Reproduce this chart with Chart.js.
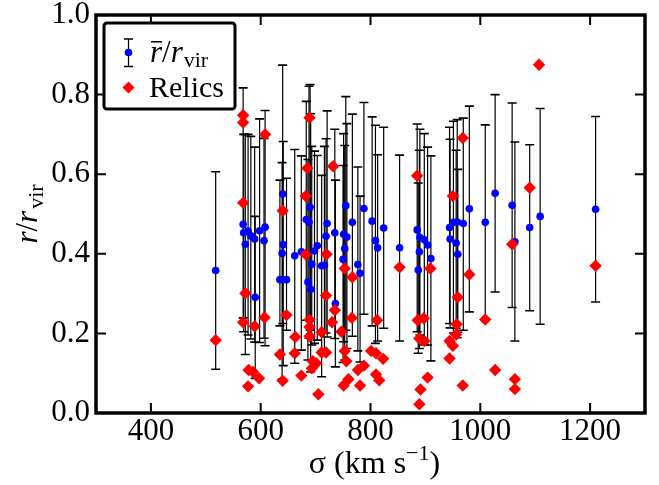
<!DOCTYPE html>
<html>
<head>
<meta charset="utf-8">
<script src="https://cdn.jsdelivr.net/npm/chart.js@4.4.1/dist/chart.umd.min.js"></script>
<style>
  html, body { margin: 0; padding: 0; background: #fff; }
</style>
</head>
<body>
<canvas id="chart" width="659" height="485"></canvas>
<script>
// clusters: velocity dispersion, mean r/rvir and the error bar ends
const clusterSigma = [518, 568, 569, 577, 572, 582, 589, 598, 608, 606,
  590, 640, 641, 639, 635, 647, 662, 674, 683, 690,
  688, 693, 686, 691, 698, 703, 711, 721, 719, 735,
  736, 716, 755, 767, 751, 757, 753, 750, 777, 781,
  788, 803, 809, 813, 824, 853, 885, 890, 898, 889,
  887, 904, 910, 944, 945, 951, 958, 969, 956, 959,
  980, 1009, 1027, 1058, 1063, 1090, 1109, 1210];
const clusterMean = [0.358, 0.474, 0.453, 0.457, 0.424, 0.445, 0.437, 0.458, 0.467, 0.433,
  0.291, 0.550, 0.423, 0.401, 0.335, 0.335, 0.395, 0.405, 0.486, 0.517,
  0.479, 0.374, 0.329, 0.311, 0.407, 0.420, 0.370, 0.476, 0.444, 0.453,
  0.275, 0.371, 0.521, 0.479, 0.449, 0.442, 0.413, 0.386, 0.373, 0.351,
  0.514, 0.482, 0.433, 0.415, 0.465, 0.415, 0.460, 0.441, 0.435, 0.405,
  0.359, 0.422, 0.388, 0.466, 0.437, 0.479, 0.480, 0.476, 0.427, 0.399,
  0.513, 0.479, 0.552, 0.522, 0.430, 0.466, 0.494, 0.512];
const clusterHi = [0.606, 0.817, 0.700, 0.700, 0.700, 0.695, 0.668, 0.739, 0.760, 0.690,
  0.494, 0.874, 0.682, 0.629, 0.585, 0.590, 0.662, 0.646, 0.783, 0.825,
  0.821, 0.670, 0.637, 0.752, 0.658, 0.647, 0.597, 0.759, 0.689, 0.713,
  0.585, 0.670, 0.795, 0.751, 0.702, 0.727, 0.672, 0.622, 0.618, 0.545,
  0.780, 0.744, 0.723, 0.649, 0.718, 0.648, 0.726, 0.713, 0.702, 0.660,
  0.578, 0.668, 0.646, 0.718, 0.688, 0.733, 0.737, 0.741, 0.660, 0.612,
  0.771, 0.724, 0.800, 0.779, 0.681, 0.674, 0.765, 0.745];
const clusterLo = [0.110, 0.239, 0.204, 0.196, 0.147, 0.186, 0.178, 0.177, 0.169, 0.188,
  0.087, 0.225, 0.119, 0.085, 0.219, 0.208, 0.125, 0.158, 0.233, 0.208,
  0.188, 0.171, 0.133, 0.103, 0.175, 0.183, 0.091, 0.191, 0.201, 0.187,
  0.116, 0.153, 0.208, 0.193, 0.179, 0.162, 0.133, 0.127, 0.156, 0.128,
  0.248, 0.219, 0.175, 0.181, 0.213, 0.181, 0.204, 0.196, 0.171, 0.162,
  0.150, 0.171, 0.131, 0.225, 0.214, 0.201, 0.189, 0.208, 0.213, 0.203,
  0.254, 0.233, 0.304, 0.265, 0.181, 0.257, 0.223, 0.279];

// relics: sigma of the host cluster and the relic's r/rvir
const relicSigma = [518, 568, 568, 608, 568, 572, 568, 589, 607, 578,
  586, 597, 577, 689, 685, 682, 640, 732, 647, 682,
  720, 719, 663, 689, 689, 689, 711, 635, 662, 711,
  695, 701, 693, 640, 674, 705, 730, 735, 753, 767,
  747, 766, 853, 812, 886, 897, 889, 898, 909, 753,
  756, 801, 810, 823, 788, 777, 760, 751, 781, 810,
  816, 904, 891, 889, 719, 885, 1107, 968, 950, 1090,
  980, 959, 1009, 1058, 957, 956, 944, 950, 944, 968,
  1027, 1063, 1063, 1210];
const relicR = [0.183, 0.748, 0.730, 0.700, 0.528, 0.301, 0.228, 0.218, 0.240, 0.108,
  0.103, 0.087, 0.067, 0.742, 0.615, 0.545, 0.508, 0.620, 0.246, 0.398,
  0.399, 0.295, 0.191, 0.234, 0.216, 0.193, 0.203, 0.147, 0.150, 0.152,
  0.130, 0.125, 0.112, 0.081, 0.094, 0.047, 0.228, 0.258, 0.363, 0.341,
  0.204, 0.239, 0.366, 0.233, 0.233, 0.238, 0.187, 0.181, 0.363, 0.156,
  0.130, 0.156, 0.150, 0.136, 0.119, 0.108, 0.085, 0.069, 0.069, 0.097,
  0.082, 0.089, 0.059, 0.022, 0.152, 0.596, 0.875, 0.691, 0.545, 0.566,
  0.348, 0.291, 0.235, 0.424, 0.223, 0.197, 0.181, 0.169, 0.137, 0.069,
  0.108, 0.085, 0.060, 0.370];

const xTickValues = [400, 600, 800, 1000, 1200];
const yTickValues = [0, 0.2, 0.4, 0.6, 0.8, 1.0];

const SERIF = 'Liberation Serif, Times New Roman, Times, DejaVu Serif, serif';
Chart.defaults.font.family = SERIF;

function errorBar(ctx, px, top, bot, cap) {
  ctx.lineWidth = 1.2;
  ctx.beginPath();
  ctx.moveTo(px, top); ctx.lineTo(px, bot);
  ctx.stroke();
  ctx.lineWidth = 1.6;
  ctx.beginPath();
  ctx.moveTo(px - cap, top); ctx.lineTo(px + cap, top);
  ctx.moveTo(px - cap, bot); ctx.lineTo(px + cap, bot);
  ctx.stroke();
}

const decorPlugin = {
  id: 'decor',
  beforeDatasetsDraw(chart) {
    const { ctx, scales: { x, y } } = chart;
    ctx.save();
    ctx.strokeStyle = '#000';
    clusterSigma.forEach((s, i) => {
      errorBar(ctx, x.getPixelForValue(s), y.getPixelForValue(clusterHi[i]),
        y.getPixelForValue(clusterLo[i]), 4.5);
    });
    ctx.restore();
  },
  afterDatasetsDraw(chart) {
    const { ctx, chartArea: a, scales: { x, y } } = chart;
    ctx.save();
    ctx.strokeStyle = '#000';
    // inward ticks on all four sides
    ctx.lineWidth = 2;
    ctx.beginPath();
    xTickValues.forEach(v => {
      const px = x.getPixelForValue(v);
      ctx.moveTo(px, a.bottom); ctx.lineTo(px, a.bottom - 10);
      ctx.moveTo(px, a.top); ctx.lineTo(px, a.top + 10);
    });
    yTickValues.forEach(v => {
      const py = y.getPixelForValue(v);
      ctx.moveTo(a.left, py); ctx.lineTo(a.left + 10, py);
      ctx.moveTo(a.right, py); ctx.lineTo(a.right - 10, py);
    });
    ctx.stroke();
    ctx.lineWidth = 3.5;
    ctx.strokeRect(a.left, a.top, a.right - a.left, a.bottom - a.top);
    ctx.restore();
  },
  afterDraw(chart) {
    const { ctx, chartArea: a } = chart;
    ctx.save();
    ctx.fillStyle = '#000';
    ctx.textBaseline = 'alphabetic';

    // x title: sigma (km s^-1)
    const main = '32px ' + SERIF, sup = '22px ' + SERIF;
    const p1 = 'σ (km s', p2 = '−1', p3 = ')';
    ctx.font = main; const w1 = ctx.measureText(p1).width, w3 = ctx.measureText(p3).width;
    ctx.font = sup; const w2 = ctx.measureText(p2).width;
    let tx = (a.left + a.right) / 2 + 4 - (w1 + w2 + w3) / 2;
    const ty = 473;
    ctx.font = main; ctx.fillText(p1, tx, ty); tx += w1;
    ctx.font = sup; ctx.fillText(p2, tx, ty - 13); tx += w2;
    ctx.font = main; ctx.fillText(p3, tx, ty);

    // y title: r / r_vir, rotated
    const it = 'italic 31px ' + SERIF, rm = '31px ' + SERIF, sub = '22px ' + SERIF;
    ctx.font = it; const wr = ctx.measureText('r').width;
    ctx.font = rm; const ws = ctx.measureText('/').width;
    ctx.font = sub; const wv = ctx.measureText('vir').width;
    const total = wr * 2 + ws + wv + 2;
    ctx.save();
    ctx.translate(37, (a.top + a.bottom) / 2);
    ctx.rotate(-Math.PI / 2);
    let yx = -total / 2;
    ctx.font = it; ctx.fillText('r', yx, 0); yx += wr;
    ctx.font = rm; ctx.fillText('/', yx, 0); yx += ws;
    ctx.font = it; ctx.fillText('r', yx, 0); yx += wr + 2;
    ctx.font = sub; ctx.fillText('vir', yx, 6);
    ctx.restore();

    // legend box
    ctx.beginPath();
    ctx.roundRect(104, 23, 131, 86, 3);
    ctx.fillStyle = '#fff';
    ctx.fill();
    ctx.lineWidth = 3;
    ctx.strokeStyle = '#000';
    ctx.stroke();

    errorBar(ctx, 128.5, 39, 66.5, 4.5);
    ctx.fillStyle = '#0000ff';
    ctx.beginPath(); ctx.arc(128.5, 52.5, 3.8, 0, Math.PI * 2); ctx.fill();

    ctx.fillStyle = '#ff0000';
    ctx.beginPath();
    ctx.moveTo(128.5, 81.5); ctx.lineTo(134.5, 87.5); ctx.lineTo(128.5, 93.5); ctx.lineTo(122.5, 87.5);
    ctx.closePath(); ctx.fill();

    ctx.fillStyle = '#000';
    let lx = 150;
    ctx.font = it; ctx.fillText('r', lx, 62);
    ctx.fillRect(lx + 1, 41, wr - 1, 1.5);
    lx += wr;
    ctx.font = rm; ctx.fillText('/', lx, 62); lx += ws;
    ctx.font = it; ctx.fillText('r', lx, 62); lx += wr + 1;
    ctx.font = sub; ctx.fillText('vir', lx, 67);
    ctx.font = '30px ' + SERIF;
    ctx.fillText('Relics', 149, 97);
    ctx.restore();
  }
};

new Chart(document.getElementById('chart'), {
  type: 'scatter',
  data: {
    datasets: [{
      label: 'Relics',
      data: relicSigma.map((s, i) => ({ x: s, y: relicR[i] })),
      pointStyle: 'rectRot',
      pointRadius: 6.2,
      backgroundColor: '#ff0000',
      borderWidth: 0,
      order: 0
    }, {
      label: 'mean r/rvir',
      data: clusterSigma.map((s, i) => ({ x: s, y: clusterMean[i] })),
      pointStyle: 'circle',
      pointRadius: 3.8,
      backgroundColor: '#0000ff',
      borderWidth: 0,
      order: 1
    }]
  },
  options: {
    responsive: false,
    animation: false,
    events: [],
    layout: { padding: { left: 0, right: 14, top: 15, bottom: 0 } },
    plugins: { legend: { display: false }, tooltip: { enabled: false } },
    scales: {
      x: {
        type: 'linear',
        min: 300,
        max: 1300,
        afterBuildTicks: s => { s.ticks = xTickValues.map(v => ({ value: v })); },
        afterFit: s => { s.height = 72; s.paddingLeft = 0; s.paddingRight = 0; },
        grid: { display: false, drawTicks: false },
        border: { display: false },
        ticks: {
          color: '#000',
          padding: 0,
          maxRotation: 0,
          autoSkip: false,
          callback: v => String(v),
          font: { family: SERIF, size: 31 }
        }
      },
      y: {
        min: 0,
        max: 1,
        afterBuildTicks: s => { s.ticks = yTickValues.map(v => ({ value: v })); },
        afterFit: s => { s.width = 96; s.paddingTop = 0; s.paddingBottom = 0; },
        grid: { display: false, drawTicks: false },
        border: { display: false },
        ticks: {
          color: '#000',
          padding: 6,
          autoSkip: false,
          callback: v => v.toFixed(1),
          font: { family: SERIF, size: 31 }
        }
      }
    }
  },
  plugins: [decorPlugin]
});
</script>
</body>
</html>
